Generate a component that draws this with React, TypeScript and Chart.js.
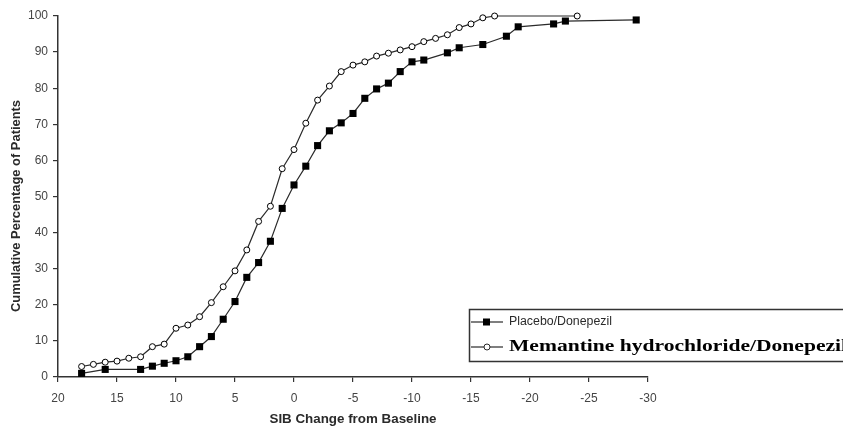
import React, { useEffect, useRef } from "react";
import { Chart, registerables } from "chart.js";

Chart.register(...registerables);

// ---- data ----
const seriesNames = ["Placebo/Donepezil", "Memantine hydrochloride/Donepezil"];
const xTitle = "SIB Change from Baseline";
const yTitle = "Cumulative Percentage of Patients";

const placeboChange = [18, 16, 13, 12, 11, 10, 9, 8, 7, 6, 5, 4, 3, 2, 1, 0, -1, -2, -3, -4, -5, -6, -7, -8, -9, -10, -11, -13, -14, -16, -18, -19, -22, -23, -29];
const placeboPct = [1.0, 2.1, 2.1, 3.0, 3.8, 4.5, 5.6, 8.4, 11.2, 16.0, 20.9, 27.6, 31.7, 37.6, 46.7, 53.2, 58.4, 64.1, 68.2, 70.4, 73.0, 77.2, 79.8, 81.4, 84.6, 87.3, 87.8, 89.8, 91.2, 92.1, 94.4, 97.0, 97.8, 98.6, 98.9];

const memantineChange = [18, 17, 16, 15, 14, 13, 12, 11, 10, 9, 8, 7, 6, 5, 4, 3, 2, 1, 0, -1, -2, -3, -4, -5, -6, -7, -8, -9, -10, -11, -12, -13, -14, -15, -16, -17, -24];
const memantinePct = [2.9, 3.5, 4.1, 4.4, 5.2, 5.6, 8.4, 9.1, 13.5, 14.4, 16.7, 20.6, 25.0, 29.4, 35.2, 43.1, 47.3, 57.7, 63.0, 70.3, 76.7, 80.6, 84.6, 86.4, 87.3, 88.9, 89.7, 90.6, 91.5, 92.9, 93.8, 94.8, 96.8, 97.8, 99.5, 100, 100];

const xMin = -30;
const xMax = 20;
const xStep = 5;
const yMin = 0;
const yMax = 100;
const yStep = 10;

const INK = "#2a2a2a";

function drawFitted(
  ctx: CanvasRenderingContext2D,
  text: string,
  x: number,
  y: number,
  font: string,
  targetWidth: number,
  align: "left" | "center",
  rotate: boolean
) {
  ctx.save();
  ctx.font = font;
  const w = ctx.measureText(text).width;
  const sx = targetWidth / w;
  ctx.translate(x, y);
  if (rotate) ctx.rotate(-Math.PI / 2);
  ctx.scale(sx, 1);
  ctx.textAlign = align;
  ctx.textBaseline = "middle";
  ctx.fillText(text, 0, 0);
  ctx.restore();
}

const decorPlugin = {
  id: "decor",
  afterDraw(chart: any) {
    const ctx: CanvasRenderingContext2D = chart.ctx;
    ctx.save();
    ctx.fillStyle = INK;
    // axis titles
    drawFitted(ctx, yTitle, 17, 206, "bold 12px 'Liberation Sans', Arial, sans-serif", 212, "center", true);
    drawFitted(ctx, xTitle, 353, 420, "bold 12px 'Liberation Sans', Arial, sans-serif", 167, "center", false);

    // legend box
    ctx.strokeStyle = "#333";
    ctx.lineWidth = 1.5;
    ctx.strokeRect(469.5, 309.5, 400, 52);

    // row 1 : placebo
    const r1 = 322;
    ctx.strokeStyle = INK;
    ctx.lineWidth = 1.2;
    ctx.beginPath();
    ctx.moveTo(471, r1);
    ctx.lineTo(503, r1);
    ctx.stroke();
    ctx.fillStyle = "#000";
    ctx.fillRect(483, r1 - 3.5, 7, 7);
    ctx.fillStyle = INK;
    drawFitted(ctx, seriesNames[0], 509, r1, "12px 'Liberation Sans', Arial, sans-serif", 103, "left", false);

    // row 2 : memantine
    const r2 = 347;
    ctx.beginPath();
    ctx.moveTo(471, r2);
    ctx.lineTo(503, r2);
    ctx.stroke();
    ctx.beginPath();
    ctx.arc(487, r2, 3, 0, Math.PI * 2);
    ctx.fillStyle = "#fff";
    ctx.fill();
    ctx.lineWidth = 1;
    ctx.stroke();
    ctx.fillStyle = "#000";
    drawFitted(ctx, seriesNames[1], 509, r2, "bold 17px 'Liberation Serif', 'Times New Roman', serif", 338, "left", false);
    ctx.restore();
  },
};

export default function App() {
  const ref = useRef<HTMLCanvasElement | null>(null);

  useEffect(() => {
    if (!ref.current) return;
    const chart = new Chart(ref.current, {
      type: "scatter",
      data: {
        datasets: [
          {
            label: seriesNames[0],
            data: placeboChange.map((x, i) => ({ x, y: placeboPct[i] })),
            showLine: true,
            borderColor: INK,
            borderWidth: 1.2,
            pointStyle: "rect",
            pointRadius: 5,
            pointBackgroundColor: "#000",
            pointBorderColor: "#000",
            pointBorderWidth: 0,
            clip: false,
          },
          {
            label: seriesNames[1],
            data: memantineChange.map((x, i) => ({ x, y: memantinePct[i] })),
            showLine: true,
            borderColor: INK,
            borderWidth: 1.2,
            pointStyle: "circle",
            pointRadius: 3,
            pointBackgroundColor: "#fff",
            pointBorderColor: "#000",
            pointBorderWidth: 1,
            clip: false,
          },
        ],
      },
      options: {
        responsive: false,
        animation: false,
        devicePixelRatio: 1,
        layout: { padding: { left: 0, top: 16, right: 195, bottom: 0 } },
        plugins: {
          legend: { display: false },
          tooltip: { enabled: false },
        },
        scales: {
          x: {
            type: "linear",
            reverse: true,
            min: xMin,
            max: xMax,
            afterFit: (s: any) => {
              s.height = 55;
            },
            ticks: {
              stepSize: xStep,
              padding: 9,
              color: "#444",
              font: { family: "'Liberation Sans', Arial, sans-serif", size: 12 },
            },
            grid: {
              display: true,
              drawOnChartArea: false,
              drawTicks: true,
              tickLength: 5,
              color: "#333",
              lineWidth: 1.2,
            },
            border: { display: true, color: "#333", width: 1.5 },
          },
          y: {
            type: "linear",
            min: yMin,
            max: yMax,
            afterFit: (s: any) => {
              s.width = 58;
            },
            ticks: {
              stepSize: yStep,
              padding: 5,
              color: "#444",
              font: { family: "'Liberation Sans', Arial, sans-serif", size: 12 },
            },
            grid: {
              display: true,
              drawOnChartArea: false,
              drawTicks: true,
              tickLength: 5,
              color: "#333",
              lineWidth: 1.2,
            },
            border: { display: true, color: "#333", width: 1.5 },
          },
        },
      },
      plugins: [decorPlugin],
    } as any);
    return () => chart.destroy();
  }, []);

  return (
    <div style={{ position: "fixed", left: 0, top: 0, width: 843, height: 432, background: "#fff" }}>
      <canvas ref={ref} width={843} height={432} style={{ display: "block" }} />
    </div>
  );
}
